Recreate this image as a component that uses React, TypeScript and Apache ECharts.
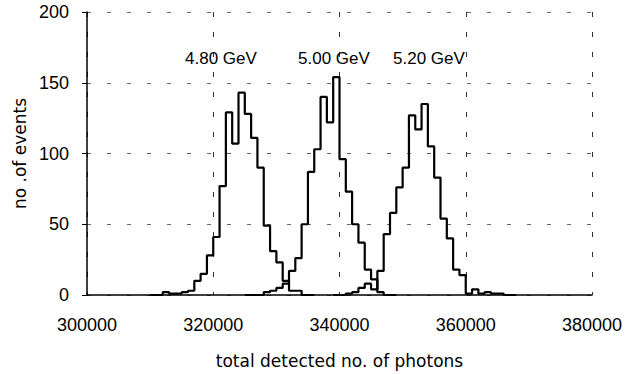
import React, { useEffect, useRef } from "react";
import * as echarts from "echarts";

const BIN_WIDTH = 1000;

const xTicks = [300000, 320000, 340000, 360000, 380000];
const yTicks = [0, 50, 100, 150, 200];

const energyLabels = ["4.80 GeV", "5.00 GeV", "5.20 GeV"];

const gev480Start = 310000;
const gev480Counts = [0, 0, 2, 1, 1, 2, 3, 10, 15, 28, 41, 77, 129, 107, 143, 128, 111, 90, 49, 31, 23, 10, 3, 3, 0, 0];

const gev500Start = 325000;
const gev500Counts = [0, 0, 0, 2, 3, 5, 8, 17, 26, 50, 87, 103, 140, 122, 154, 96, 73, 50, 37, 18, 11, 2, 0, 0];

const gev520Start = 339000;
const gev520Counts = [0, 0, 1, 2, 5, 8, 4, 17, 43, 58, 76, 90, 127, 117, 135, 105, 83, 54, 40, 18, 14, 1, 4, 1, 2, 1, 1, 0, 0];

function histData(start: number, counts: number[]) {
  const pts: [number, number][] = counts.map((c, i) => [start + i * BIN_WIDTH, c]);
  pts.push([start + counts.length * BIN_WIDTH, 0]);
  return pts;
}

export default function App() {
  const ref = useRef<HTMLDivElement>(null);
  useEffect(() => {
    if (!ref.current) return;
    const chart = echarts.init(ref.current, null, { renderer: "svg" });
    const titleFont = "'DejaVu Sans', sans-serif";
    const tickFont = "'Liberation Sans', Arial, sans-serif";
    const mkSeries = (name: string, start: number, counts: number[]) => ({
      name,
      type: "line",
      step: "end",
      data: histData(start, counts),
      symbol: "none",
      lineStyle: { color: "#000", width: 2.2 },
      z: 3,
    });
    chart.setOption({
      animation: false,
      backgroundColor: "#fff",
      grid: { left: 87, right: 40, top: 12, bottom: 78, containLabel: false },
      xAxis: {
        type: "value",
        min: xTicks[0],
        max: xTicks[xTicks.length - 1],
        interval: xTicks[1] - xTicks[0],
        name: "total detected no. of photons",
        nameLocation: "middle",
        nameGap: 57,
        nameTextStyle: { fontFamily: titleFont, fontSize: 17, color: "#000" },
        axisLine: { show: true, onZero: false, lineStyle: { color: "#000", width: 1.5 } },
        axisTick: { show: false },
        axisLabel: { margin: 21, fontFamily: tickFont, fontSize: 18, color: "#000", formatter: (v: number) => String(v) },
        splitLine: { show: true, lineStyle: { color: "#333", type: [5, 15], width: 1 } },
      },
      yAxis: {
        type: "value",
        min: yTicks[0],
        max: yTicks[yTicks.length - 1],
        interval: yTicks[1] - yTicks[0],
        name: "no .of events",
        nameLocation: "middle",
        nameGap: 57,
        nameTextStyle: { fontFamily: titleFont, fontSize: 17, color: "#000" },
        axisLine: { show: true, lineStyle: { color: "#000", width: 1.5 } },
        axisTick: { show: true, inside: false, length: 5, lineStyle: { color: "#000" } },
        axisLabel: { margin: 18, fontFamily: tickFont, fontSize: 18, color: "#000" },
        splitLine: { show: true, lineStyle: { color: "#666", type: [4, 16], width: 1 } },
      },
      graphic: [
        { type: "text", left: 185, top: 50, style: { text: energyLabels[0], font: `17px ${tickFont}`, fill: "#000" }, z: 10 },
        { type: "text", left: 298, top: 50, style: { text: energyLabels[1], font: `17px ${tickFont}`, fill: "#000" }, z: 10 },
        { type: "text", left: 393, top: 50, style: { text: energyLabels[2], font: `17px ${tickFont}`, fill: "#000" }, z: 10 },
      ],
      series: [
        mkSeries(energyLabels[0], gev480Start, gev480Counts),
        mkSeries(energyLabels[1], gev500Start, gev500Counts),
        mkSeries(energyLabels[2], gev520Start, gev520Counts),
      ],
    });
    return () => chart.dispose();
  }, []);
  return <div ref={ref} style={{ position: "fixed", left: 0, top: 0, width: 632, height: 374 }} />;
}
